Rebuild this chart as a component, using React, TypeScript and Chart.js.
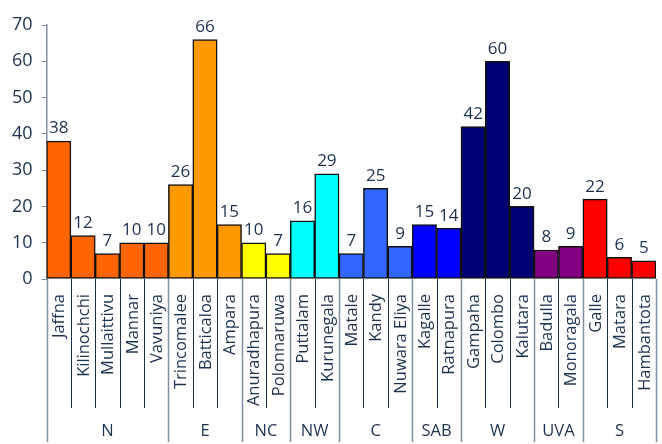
import React, { useEffect, useRef } from "react";
import { Chart, registerables } from "chart.js";

Chart.register(...registerables);

const categories = [
  "Jaffna", "Kilinochchi", "Mullaittivu", "Mannar", "Vavuniya",
  "Trincomalee", "Batticaloa", "Ampara",
  "Anuradhapura", "Polonnaruwa",
  "Puttalam", "Kurunegala",
  "Matale", "Kandy", "Nuwara Eliya",
  "Kagalle", "Ratnapura",
  "Gampaha", "Colombo", "Kalutara",
  "Badulla", "Monoragala",
  "Galle", "Matara", "Hambantota",
];
const values = [38, 12, 7, 10, 10, 26, 66, 15, 10, 7, 16, 29, 7, 25, 9, 15, 14, 42, 60, 20, 8, 9, 22, 6, 5];
const groups = ["N", "E", "NC", "NW", "C", "SAB", "W", "UVA", "S"];
const groupSizes = [5, 3, 2, 2, 3, 2, 3, 2, 3];
const groupColors = ["#FF6600", "#FF9900", "#FFFF00", "#00FFFF", "#3366FF", "#0000FF", "#000070", "#800080", "#FF0000"];
const yTicks = [0, 10, 20, 30, 40, 50, 60, 70];

const TEXT = "#1C3150";
const FONT = "'Open Sans', sans-serif";

const barColors: string[] = [];
groupSizes.forEach((n, gi) => {
  for (let i = 0; i < n; i++) barColors.push(groupColors[gi]);
});

const annotate = {
  id: "annotate",
  afterDatasetsDraw(chart: any) {
    const ctx = chart.ctx;
    const x = chart.scales.x;
    const y = chart.scales.y;
    const area = chart.chartArea;
    const meta = chart.getDatasetMeta(0);
    ctx.save();
    // value labels
    ctx.fillStyle = TEXT;
    ctx.font = `17px ${FONT}`;
    ctx.textAlign = "center";
    ctx.textBaseline = "bottom";
    meta.data.forEach((bar: any, i: number) => {
      ctx.fillText(String(values[i]), bar.x, y.getPixelForValue(values[i]) - 4);
    });
    // category labels
    ctx.font = `16.5px ${FONT}`;
    categories.forEach((c, i) => {
      const cx = x.getPixelForValue(i);
      ctx.save();
      ctx.translate(cx + 1, area.bottom + 15);
      ctx.rotate(-Math.PI / 2);
      ctx.textAlign = "right";
      ctx.textBaseline = "middle";
      ctx.fillText(c, 0, 0);
      ctx.restore();
    });
    // separator lines
    const half = (x.getPixelForValue(1) - x.getPixelForValue(0)) / 2;
    let idx = 0;
    const groupBounds: number[] = [0];
    groupSizes.forEach((n) => {
      idx += n;
      groupBounds.push(idx);
    });
    for (let i = 1; i < categories.length; i++) {
      if (groupBounds.includes(i)) continue;
      const bx = Math.round(x.getPixelForValue(i) - half) + 0.5;
      ctx.strokeStyle = TEXT;
      ctx.lineWidth = 1;
      ctx.beginPath();
      ctx.moveTo(bx, area.bottom);
      ctx.lineTo(bx, 408);
      ctx.stroke();
    }
    groupBounds.forEach((b) => {
      const bx = Math.round(x.getPixelForValue(b) - half) + 0.5;
      ctx.strokeStyle = "#7E8EA4";
      ctx.lineWidth = 1.5;
      ctx.beginPath();
      ctx.moveTo(bx, area.bottom);
      ctx.lineTo(bx, 442);
      ctx.stroke();
    });
    // group labels
    ctx.fillStyle = TEXT;
    ctx.font = `16.5px ${FONT}`;
    ctx.textAlign = "center";
    ctx.textBaseline = "middle";
    groups.forEach((g, gi) => {
      const start = groupBounds[gi];
      const end = groupBounds[gi + 1];
      const cx = (x.getPixelForValue(start) + x.getPixelForValue(end - 1)) / 2;
      ctx.fillText(g, cx, 431);
    });
    ctx.restore();
  },
};

export default function App() {
  const ref = useRef<HTMLCanvasElement>(null);
  useEffect(() => {
    if (!ref.current) return;
    const chart = new Chart(ref.current, {
      type: "bar",
      data: {
        labels: categories,
        datasets: [
          {
            data: values,
            backgroundColor: barColors,
            borderColor: "#111111",
            borderWidth: 1.5,
            borderSkipped: false,
            barPercentage: 1,
            categoryPercentage: 1,
          },
        ],
      },
      options: {
        animation: false,
        responsive: false,
        maintainAspectRatio: false,
        layout: { padding: { top: 25, right: 6, bottom: 165, left: 0 } },
        plugins: { legend: { display: false }, tooltip: { enabled: false } },
        scales: {
          x: { display: false },
          y: {
            min: 0,
            max: 70,
            afterFit: (s: any) => {
              s.width = 46.5;
            },
            afterBuildTicks: (s: any) => {
              s.ticks = yTicks.map((v) => ({ value: v }));
            },
            border: { color: "#7E8EA4", width: 1.5 },
            grid: { drawOnChartArea: false, tickLength: 5, color: "#7E8EA4" },
            ticks: {
              color: TEXT,
              padding: 9,
              font: { family: "'Open Sans', sans-serif", size: 18 },
            },
          },
        },
      },
      plugins: [annotate],
    });
    return () => chart.destroy();
  }, []);
  return (
    <div style={{ position: "fixed", left: 0, top: 0, width: 662, height: 444, background: "#fff" }}>
      <canvas ref={ref} width={662} height={444} style={{ width: 662, height: 444 }} />
    </div>
  );
}
